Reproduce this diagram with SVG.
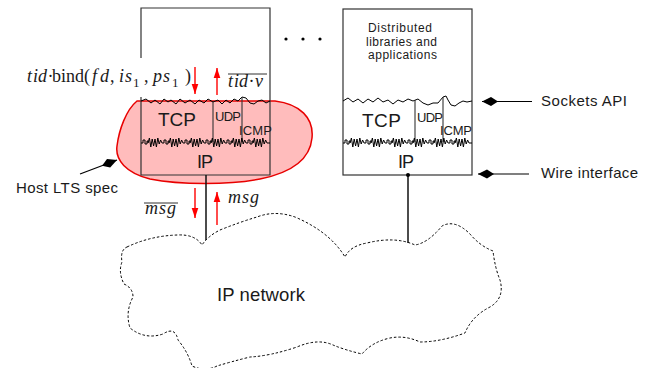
<svg xmlns="http://www.w3.org/2000/svg" width="651" height="368" viewBox="0 0 651 368">
<style>
.sans{font-family:"Liberation Sans","DejaVu Sans",Arial,sans-serif;fill:#1a1a1a}
.mi{font-family:"Liberation Serif","DejaVu Serif",serif;font-style:italic;font-size:18px;fill:#1a1a1a}
.mr{font-family:"Liberation Serif","DejaVu Serif",serif;font-size:18px;fill:#1a1a1a}
.sub{font-family:"Liberation Serif","DejaVu Serif",serif;font-size:13px;fill:#1a1a1a}
.box{fill:none;stroke:#333;stroke-width:1.2}
.zig{fill:none;stroke:#000;stroke-width:1;stroke-linejoin:miter}
.div{stroke:#333;stroke-width:1.1}
.red{stroke:#f00;stroke-width:1.4;fill:none}
.wire{stroke:#111;stroke-width:1.5}
.ptr{stroke:#000;stroke-width:1.2;fill:none}
</style>
<defs>
<marker id="redHead" viewBox="-10 -4 11 8" refX="0" refY="0" markerWidth="11" markerHeight="8" markerUnits="userSpaceOnUse" orient="auto">
<path d="M0,0 L-10,-3.3 L-10,3.3 Z" fill="#f00"/>
</marker>
<marker id="kite" viewBox="-18 -6 19 12" refX="0" refY="0" markerWidth="19" markerHeight="12" markerUnits="userSpaceOnUse" orient="auto">
<path d="M0,0 L-9,-4.5 L-16,0 L-9,4.5 Z" fill="#000"/>
</marker>
<path id="ipzig" d="m0,0 h2 v-3 h2 v4 h2 v-3 h1 v2 l1.4,-5 l1.4,9 l1.4,-8 l1.4,7 l1.4,-7 l1.4,8 l1.4,-9 l1.4,6 l1.4,-4 l1.4,3 h2 v-3 h2 v4 h2 v-3 h1 v2 l1.4,-5 l1.4,9 l1.4,-8 l1.4,7 l1.4,-7 l1.4,8 l1.4,-9 l1.4,6 l1.4,-4 l1.4,3 h2 v-3 h2 v4 h2 v-3 h1 v2 l1.4,-5 l1.4,9 l1.4,-8 l1.4,7 l1.4,-7 l1.4,8 l1.4,-9 l1.4,6 l1.4,-4 l1.4,3 h2 v-3 h2 v4 h2 v-3 h1 v2 l1.4,-5 l1.4,9 l1.4,-8 l1.4,7 l1.4,-7 l1.4,8 l1.4,-9 l1.4,6 l1.4,-4 l1.4,3 h2 v-3 h2 v4 h2 v-3 h1 v2 l1.4,-5 l1.4,9 l1.4,-8 l1.4,7 l1.4,-7 l1.4,8 l1.4,-9 l1.4,6 l1.4,-4 l1.4,3 h2 v-3 h2 v4 h2 v-3 h1 v2 l1.4,-5 l1.4,9 l1.4,-8 l1.4,7 l1.4,-7 l1.4,8 l1.4,-9 l1.4,6 l1.4,-4 l1.4,3 h3"/>
</defs>
<rect width="651" height="368" fill="#fff"/>

<g id="host-lts-spec">
<path d="M137,101 L275,101 C300,104 314,118 312,138 C310,160 290,173 260,179 C230,185 180,185 150,179 C126,173 115,160 117,146 C119,130 126,110 137,101 Z" fill="#ffbcbc" stroke="#e80000" stroke-width="1.5"/>
</g>

<g id="host1">
<path class="box" d="M141,58 V8 H270 V175 H141 V97"/>
<polyline class="zig" points="141,101 146,99 151,103 155,100 160,104 164,99 168,102 171,100 176,104 180,99 185,103 190,100 195,104 199,100 204,103 208,99 213,102 218,100 222,104 226,100 230,103 234,99 238,101 242,97 246,98 250,103 254,104 258,101 262,100 266,103 270,101"/>
<line class="div" x1="213" y1="102" x2="213" y2="142"/>
<line class="div" x1="242" y1="97" x2="242" y2="142"/>
<use href="#ipzig" x="141" y="143" class="zig"/>
<text class="sans" x="158" y="126" font-size="19" textLength="38">TCP</text>
<text class="sans" x="215" y="121" font-size="13" textLength="26">UDP</text>
<text class="sans" x="239" y="135" font-size="13" textLength="33">ICMP</text>
<text class="sans" x="197" y="168" font-size="18" textLength="16">IP</text>
</g>

<g id="ellipsis">
<circle cx="286" cy="39" r="1.6" fill="#000"/>
<circle cx="303" cy="39" r="1.6" fill="#000"/>
<circle cx="320" cy="39" r="1.6" fill="#000"/>
</g>

<g id="host2">
<rect class="box" x="343" y="9" width="129" height="166"/>
<text class="sans" x="368" y="32" font-size="12" textLength="64">Distributed</text>
<text class="sans" x="366" y="46" font-size="12" textLength="71">libraries and</text>
<text class="sans" x="368" y="59" font-size="12" textLength="69">applications</text>
<polyline class="zig" points="343,101 348,98 353,102 358,99 363,103 368,99 373,102 378,98 383,102 388,100 393,104 398,100 403,102 408,99 413,101 418,99 423,103 428,105 433,103 438,103 443,97 446,96 448,100 451,105 455,106 459,103 463,101 467,102 472,101"/>
<line class="div" x1="415" y1="100" x2="415" y2="142"/>
<line class="div" x1="443" y1="97" x2="443" y2="142"/>
<use href="#ipzig" x="343" y="143" class="zig"/>
<text class="sans" x="362" y="127" font-size="19" textLength="39">TCP</text>
<text class="sans" x="417" y="122" font-size="13" textLength="26">UDP</text>
<text class="sans" x="440" y="135" font-size="13" textLength="32">ICMP</text>
<text class="sans" x="398" y="168" font-size="18" textLength="16">IP</text>
</g>

<g id="ip-network">
<path d="M127,247 Q150,236 177,235 Q195,234 202,245 Q208,236 220,230 Q240,222 257,217 Q275,210 295,217 Q330,232 345,257 Q350,246 367,243 Q395,236 415,245 Q428,243 442,226 Q455,219 470,234 Q480,246 493,251 Q495,268 500,280 Q505,298 490,307 Q472,316 465,333 Q440,342 420,342 Q405,335 390,338 Q372,342 362,354 Q345,350 333,345 Q318,338 297,347 Q270,356 250,357 Q230,362 217,366 Q205,372 192,366 Q188,352 178,340 Q175,326 163,334 Q145,340 130,328 Q125,312 133,297 Q133,288 124,284 Q118,272 122,262 Q120,250 127,247 Z" fill="none" stroke="#000" stroke-width="1" stroke-dasharray="2.5 2"/>
<text class="sans" x="217" y="301" font-size="18.5" textLength="88">IP network</text>
</g>

<g id="connectors">
<line class="wire" x1="206" y1="175" x2="206" y2="240"/>
<line class="wire" x1="408" y1="175" x2="408" y2="243"/>
<circle cx="408" cy="175" r="2" fill="#000"/>
<line class="red" x1="195" y1="67" x2="195" y2="94" marker-end="url(#redHead)"/>
<line class="red" x1="217" y1="95" x2="217" y2="68" marker-end="url(#redHead)"/>
<line class="red" x1="195" y1="188" x2="195" y2="218" marker-end="url(#redHead)"/>
<line class="red" x1="217" y1="225" x2="217" y2="192" marker-end="url(#redHead)"/>
<line class="ptr" x1="532" y1="101.5" x2="482" y2="101.5" marker-end="url(#kite)"/>
<line class="ptr" x1="529" y1="174" x2="478" y2="174" marker-end="url(#kite)"/>
<line class="ptr" x1="80" y1="174" x2="117" y2="160" marker-end="url(#kite)"/>
</g>

<g id="labels">
<text class="mi" x="27 33 38" y="82">tid</text>
<text class="mr" x="47.5" y="82">·</text>
<text class="mr" x="52" y="82">bind(</text>
<text class="mi" x="92 100" y="82">fd</text>
<text class="mr" x="110" y="82">,</text>
<text class="mi" x="119 125" y="82">is</text>
<text class="sub" x="133" y="87">1</text>
<text class="mr" x="144" y="82">,</text>
<text class="mi" x="153 163" y="82">ps</text>
<text class="sub" x="172" y="87">1</text>
<text class="mr" x="185" y="82">)</text>

<text class="mi" x="228 234 239" y="87">tid</text>
<text class="mr" x="248.5" y="87">·</text>
<text class="mi" x="255" y="87">v</text>
<line x1="228" y1="74" x2="267" y2="74" stroke="#1a1a1a" stroke-width="0.9"/>

<text class="mi" x="145 159 167" y="214">msg</text>
<line x1="144" y1="203" x2="178" y2="203" stroke="#1a1a1a" stroke-width="0.9"/>
<text class="mi" x="228 242 250" y="203">msg</text>

<text class="sans" x="541" y="106" font-size="15" textLength="86">Sockets API</text>
<text class="sans" x="541" y="178" font-size="15" textLength="97">Wire interface</text>
<text class="sans" x="16" y="193" font-size="15" textLength="102">Host LTS spec</text>
</g>
</svg>
